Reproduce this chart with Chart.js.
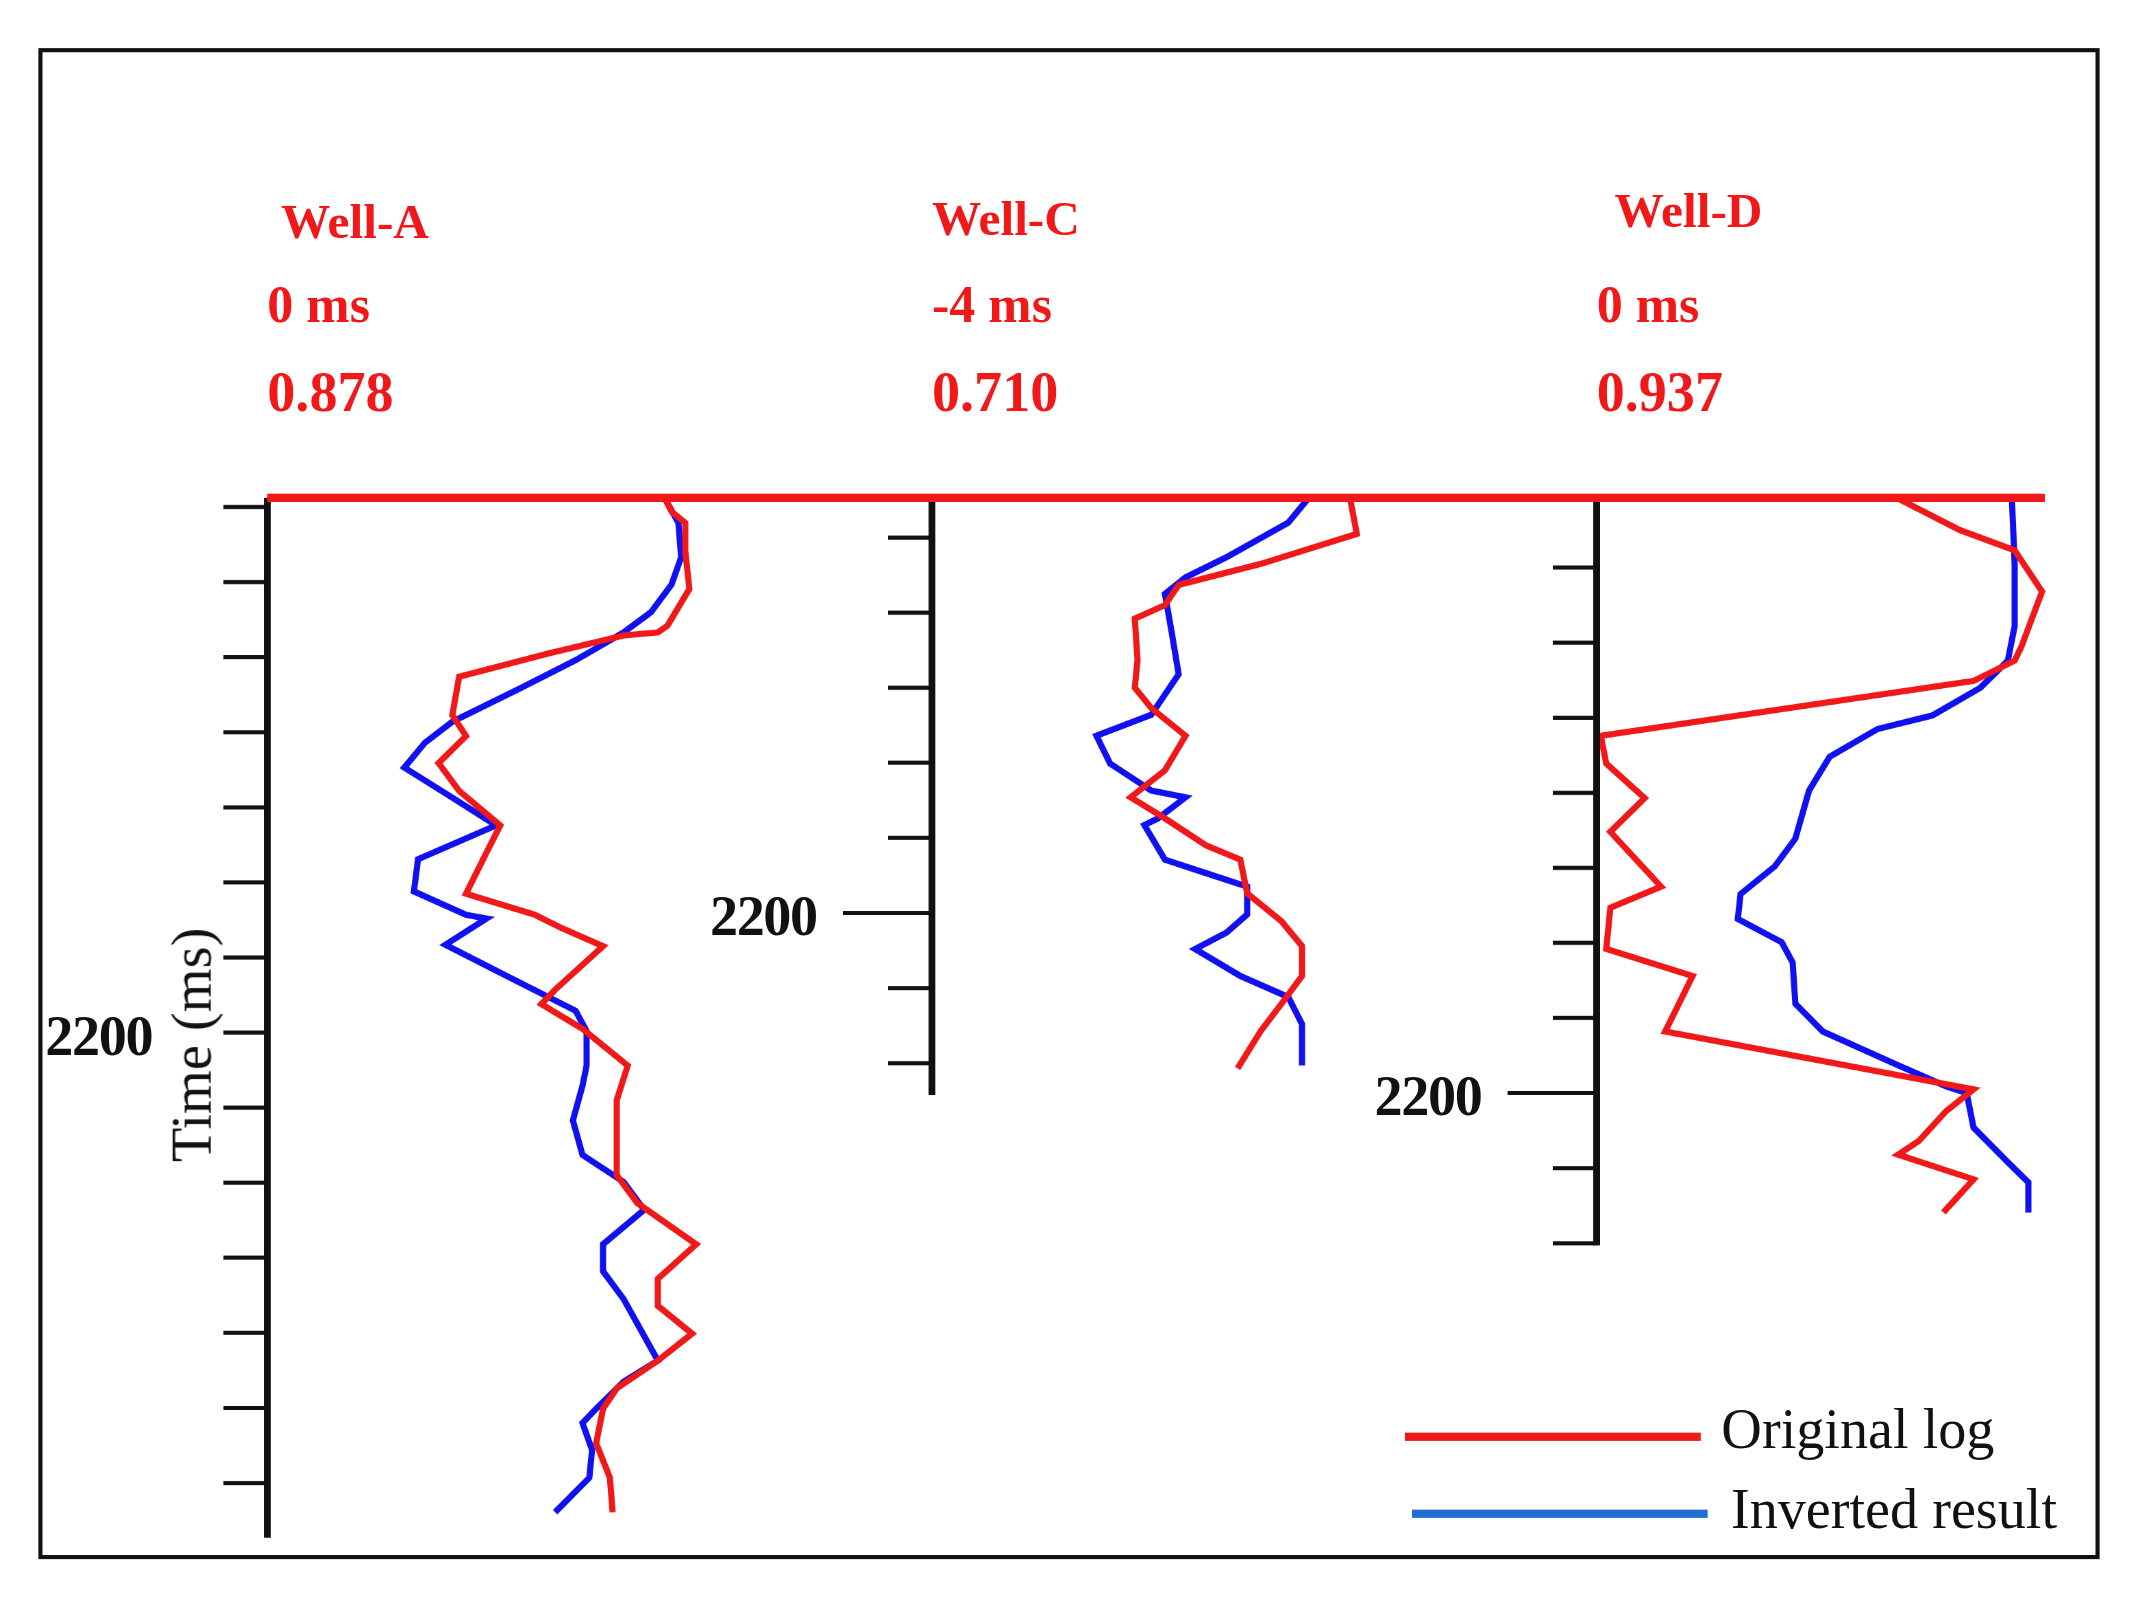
<!DOCTYPE html>
<html>
<head>
<meta charset="utf-8">
<script src="https://cdn.jsdelivr.net/npm/chart.js@4.4.1/dist/chart.umd.min.js"></script>
<style>
  html, body { margin:0; padding:0; background:#fff; overflow:hidden; }
  #stage { position:absolute; left:0; top:0; width:1560px; height:1163px; transform-origin:0 0; transform:scale(1.3705,1.3749); font-family:"Liberation Serif","DejaVu Serif",serif; }
  #frame { position:absolute; left:28px; top:35px; width:1498px; height:1093px; border:3px solid #111; }
  canvas { position:absolute; left:0; top:0; }
  .t { position:absolute; white-space:nowrap; line-height:1; }
  .red { color:#f01818; font-weight:bold; }
  .tick { color:#111; font-weight:bold; font-size:41px; letter-spacing:-1px; }
  .leg { font-size:41px; color:#111; }
</style>
</head>
<body>
<div id="stage">
  <div id="frame"></div>
  <canvas id="c" width="1560" height="1163"></canvas>

  <div class="t red" style="left:205px;top:143px;font-size:36px">Well-A</div>
  <div class="t red" style="left:195px;top:202px;font-size:38px">0 ms</div>
  <div class="t red" style="left:195px;top:265px;font-size:41px">0.878</div>
  <div class="t red" style="left:680px;top:141px;font-size:36px">Well-C</div>
  <div class="t red" style="left:680px;top:202px;font-size:38px">-4 ms</div>
  <div class="t red" style="left:680px;top:265px;font-size:41px">0.710</div>
  <div class="t red" style="left:1178px;top:135px;font-size:36px">Well-D</div>
  <div class="t red" style="left:1165px;top:202px;font-size:38px">0 ms</div>
  <div class="t red" style="left:1165px;top:265px;font-size:41px">0.937</div>

  <div class="t tick" style="left:33px;top:733px">2200</div>
  <div class="t tick" style="left:518px;top:646px">2200</div>
  <div class="t tick" style="left:1003px;top:777px">2200</div>

  <div class="t leg" style="left:140px;top:760px;transform:translate(-50%,-50%) rotate(-90deg)">Time (ms)</div>

  <div style="position:absolute;left:1025px;top:1042px;width:216px;height:6px;background:#f01818"></div>
  <div class="t leg" style="left:1256px;top:1019px">Original log</div>
  <div style="position:absolute;left:1030px;top:1098px;width:216px;height:6px;background:#1f6fd0"></div>
  <div class="t leg" style="left:1263px;top:1077px">Inverted result</div>
</div>
<script>
// ═════ DATA (time in ms, impedance in arbitrary units) ═════
const wellATimeRed = [2128.8,2130.6,2132.1,2135.8,2140.9,2145.8,2146.7,2147.1,2149.5,2152.6,2157.7,2160.5,2164.1,2167.8,2172.4,2176.0,2181.5,2184.3,2186.1,2188.5,2194.3,2196.2,2199.5,2204.4,2209.0,2219.0,2222.7,2228.2,2232.8,2236.4,2240.1,2243.7,2247.4,2250.1,2254.7,2259.3,2263.9];
const wellARed = [29.0,29.5,30.5,30.5,30.8,29.2,28.5,26.0,20.5,14.0,13.5,14.5,12.5,14.0,17.0,16.0,14.5,19.5,21.5,24.5,21.0,20.0,23.0,26.3,25.5,25.5,27.0,31.3,28.5,28.5,31.0,28.5,25.5,24.5,24.0,25.0,25.2];
const wellATimeBlue = [2128.8,2132.1,2136.7,2140.3,2144.0,2146.7,2150.4,2154.1,2158.6,2161.4,2164.7,2168.7,2172.4,2176.9,2181.2,2184.3,2184.8,2188.3,2192.5,2197.1,2199.8,2204.4,2207.1,2211.7,2216.3,2219.9,2223.6,2228.2,2231.8,2235.5,2243.7,2246.5,2250.1,2252.0,2255.6,2259.3,2263.9];
const wellABlue = [29.0,30.0,30.2,29.5,28.0,26.0,22.5,18.5,13.5,11.5,10.0,13.5,16.7,11.0,10.7,14.5,16.0,13.0,17.5,22.5,23.3,23.3,23.0,22.3,23.0,26.0,27.5,24.5,24.5,26.0,28.5,26.0,24.0,23.0,23.7,23.5,21.0];

const wellCTimeRed = [2144.7,2149.5,2153.5,2156.3,2159.0,2160.8,2166.3,2170.0,2172.7,2176.4,2181.0,2184.6,2187.4,2191.0,2192.9,2197.4,2201.1,2204.4,2208.4,2212.1,2215.7,2220.7];
const wellCRed = [30.5,31.0,24.0,18.0,17.0,14.8,15.0,14.8,16.0,18.5,17.0,14.5,17.0,20.0,22.5,23.0,25.5,27.0,27.0,25.5,24.0,22.3];
const wellCTimeBlue = [2144.7,2148.0,2152.6,2155.3,2157.5,2162.7,2168.2,2173.6,2176.4,2180.1,2183.7,2184.6,2187.4,2188.3,2192.9,2194.7,2196.5,2200.2,2202.6,2204.8,2208.4,2211.2,2214.8,2220.3];
const wellCBlue = [27.5,26.0,21.5,18.5,17.0,17.5,18.0,16.0,12.0,13.0,16.0,18.5,16.5,15.5,17.0,20.0,23.0,23.0,21.5,19.2,22.5,26.0,27.0,27.0];

const wellDTimeRed = [2120.8,2125.0,2127.7,2133.2,2140.5,2142.4,2145.1,2152.4,2156.1,2160.7,2165.2,2172.5,2175.3,2180.8,2184.4,2191.8,2199.5,2202.4,2206.4,2208.2,2211.5,2215.9];
const wellDRed = [22.0,26.5,30.5,32.5,31.0,30.5,27.5,0.3,0.7,3.5,1.0,4.7,1.0,0.7,7.0,5.0,27.5,25.5,23.5,22.0,27.5,25.3];
const wellDTimeBlue = [2120.8,2129.6,2137.8,2142.4,2146.0,2149.7,2151.5,2155.2,2159.7,2166.1,2169.8,2173.5,2176.8,2179.9,2182.6,2188.1,2191.8,2196.3,2199.1,2200.0,2204.6,2209.2,2211.9,2215.9];
const wellDBlue = [30.3,30.5,30.5,30.0,28.0,24.5,20.5,17.0,15.5,14.5,13.0,10.5,10.3,13.5,14.3,14.5,16.5,22.0,25.5,27.0,27.5,30.0,31.5,31.5];

const wellNames = ['A','C','D'];
const tickStart = [2130, 2150, 2130];
const tickEnd = [2260, 2220, 2220];
const axisEnd = [2267, 2224, 2220];

// ═════ LAYOUT ═════
const W = 1560, H = 1163, PX_PER_MS = 5.46, PX_PER_UNIT = 10, TOP = 362;
const layout = { A:{ axisX:195, y2200:751, longTick:false }, C:{ axisX:680, y2200:664, longTick:true }, D:{ axisX:1165, y2200:795, longTick:true } };
const RED = '#f01818', BLUE = '#1010f0';

const pts = (xs, ts) => xs.map((x, i) => ({ x, y: ts[i] }));
const series = {
  A: [pts(wellARed, wellATimeRed), pts(wellABlue, wellATimeBlue)],
  C: [pts(wellCRed, wellCTimeRed), pts(wellCBlue, wellCTimeBlue)],
  D: [pts(wellDRed, wellDTimeRed), pts(wellDBlue, wellDTimeBlue)]
};

const scales = {};
const datasets = [];
wellNames.forEach(w => {
  const L = layout[w];
  const xmin = -L.axisX / PX_PER_UNIT;
  const ymin = 2200 - L.y2200 / PX_PER_MS;
  scales['x' + w] = { type:'linear', display:false, min:xmin, max:xmin + W / PX_PER_UNIT };
  scales['y' + w] = { type:'linear', display:false, reverse:true, min:ymin, max:ymin + H / PX_PER_MS };
  [RED, BLUE].forEach((col, k) => datasets.push({
    data: series[w][k], xAxisID:'x' + w, yAxisID:'y' + w,
    borderColor: col, borderWidth: 4.5, pointRadius: 0, showLine: true, tension: 0, fill: false
  }));
});

// axes drawn by hand so each well gets its own short time axis
const wellAxes = {
  id: 'wellAxes',
  afterDatasetsDraw(chart) {
    const ctx = chart.ctx;
    ctx.save();
    ctx.strokeStyle = '#111';
    wellNames.forEach((w, i) => {
      const L = layout[w], ys = chart.scales['y' + w];
      const x = L.axisX;
      ctx.lineWidth = 5;
      ctx.beginPath(); ctx.moveTo(x, TOP); ctx.lineTo(x, ys.getPixelForValue(axisEnd[i]) + 1.5); ctx.stroke();
      ctx.lineWidth = 3;
      for (let t = tickStart[i]; t <= tickEnd[i]; t += 10) {
        const y = ys.getPixelForValue(t);
        const len = (t === 2200 && L.longTick) ? 65 : 32;
        ctx.beginPath(); ctx.moveTo(x - len, y); ctx.lineTo(x, y); ctx.stroke();
      }
    });
    ctx.strokeStyle = RED; ctx.lineWidth = 6;
    ctx.beginPath(); ctx.moveTo(195, TOP); ctx.lineTo(1492, TOP); ctx.stroke();
    ctx.restore();
  }
};

new Chart(document.getElementById('c').getContext('2d'), {
  type: 'scatter',
  data: { datasets },
  options: {
    responsive: false, animation: false, devicePixelRatio: 2,
    layout: { padding: 0 },
    plugins: { legend: { display:false }, tooltip: { enabled:false } },
    scales
  },
  plugins: [wellAxes]
});
</script>
</body>
</html>
